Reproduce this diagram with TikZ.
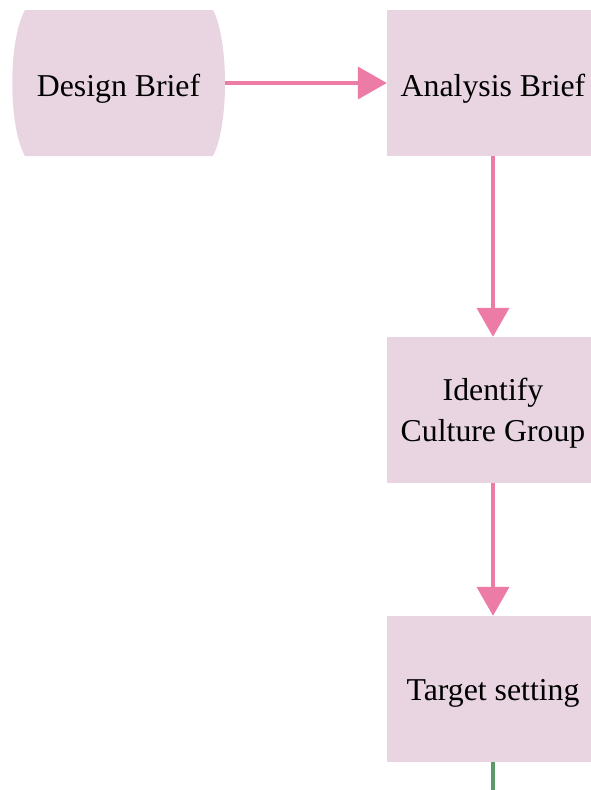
\documentclass[tikz,border=0pt]{standalone}
\usepackage{fontspec}
\setmainfont{Liberation Serif}
\usetikzlibrary{arrows.meta}

\definecolor{boxfill}{HTML}{E9D5E1}
\definecolor{flowpink}{HTML}{EC7BA6}
\definecolor{flowgreen}{HTML}{5A9A6A}

\tikzset{
  stepbox/.style={rectangle, fill=boxfill, draw=none, minimum width=212pt,
    minimum height=146pt, inner sep=0pt, align=center,
    font=\fontsize{31.8}{41}\selectfont},
  termtext/.style={rectangle, draw=none, minimum width=213pt,
    minimum height=146pt, inner sep=0pt, align=center,
    font=\fontsize{31.8}{41}\selectfont},
  flow/.style={draw=flowpink, line width=4pt,
    -{Triangle[length=29pt,width=32pt]}},
  flowout/.style={draw=flowgreen, line width=4.5pt}
}
% draw a label lower than its box, keeping the box size
\newcommand{\lowered}[2]{\raisebox{-#1}[\height][\depth]{#2}}

\begin{document}
\begin{tikzpicture}[x=1pt,y=-1pt]
  \useasboundingbox (0,0) rectangle (591,790);
  \clip (0,0) rectangle (591,790);

  % terminal shape with bulging sides
  \fill[boxfill] (25,10) -- (213,10)
    .. controls (229,40) and (229,126) .. (213,156)
    -- (25,156)
    .. controls (8,126) and (8,40) .. (25,10) -- cycle;
  \node[termtext] (design) at (118.5,83) {\lowered{6pt}{Design Brief}};

  % process steps
  \node[stepbox] (analysis) at (493,83) {\lowered{6pt}{Analysis Brief}};
  \node[stepbox] (identify) at (493,410)
    {\lowered{3pt}{\begin{tabular}{@{}c@{}}Identify\\Culture Group\end{tabular}}};
  \node[stepbox] (target)   at (493,689) {\lowered{4pt}{Target setting}};

  \coordinate (next) at (493,800);

  % connectors
  \draw[flow] (design.east) -- (analysis.west);
  \draw[flow] (analysis.south) -- (identify.north);
  \draw[flow] (identify.south) -- (target.north);
  \draw[flowout] (target.south) -- (next);
\end{tikzpicture}
\end{document}
